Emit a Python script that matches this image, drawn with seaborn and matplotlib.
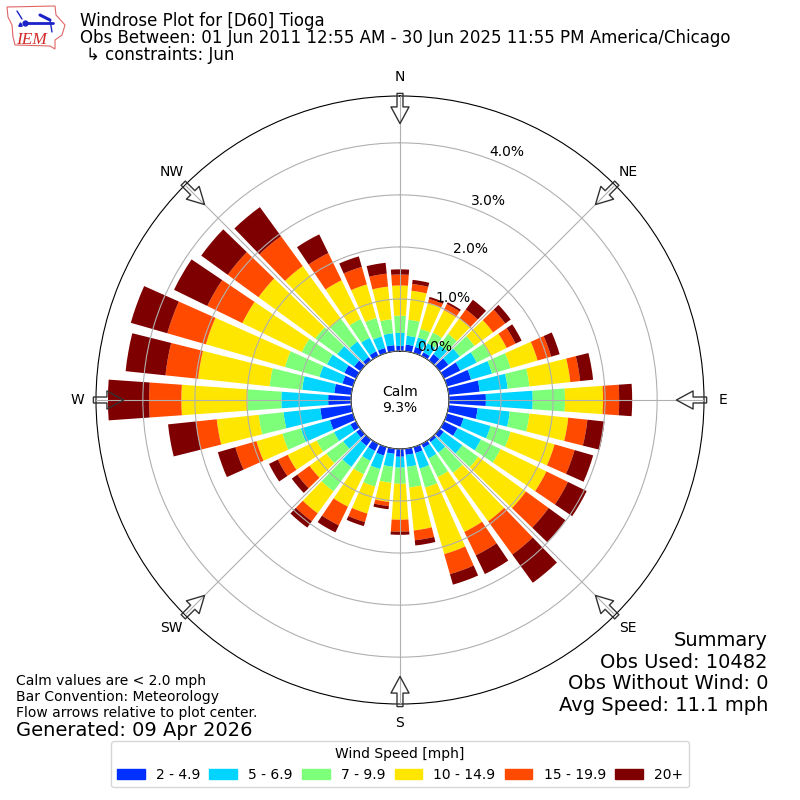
import numpy as np
import pandas as pd
import matplotlib
matplotlib.use("Agg")
import matplotlib.pyplot as plt
from matplotlib.lines import Line2D
from matplotlib.patches import Patch, Polygon
import seaborn as sns

# direction bins, degrees clockwise from north
directions = np.arange(0, 360, 10)

# percent of observations per direction for each speed class
speed_2_5 = [.10, .13, .12, .08, .15, .21, .35, .48, .60, .71, .56, .33, .29, .10, .06, .08, .12, .12,
             .15, .10, .17, .15, .15, .10, .12, .46, .60, .44, .33, .21, .25, .15, .08, .10, .10, .12]
speed_5_7 = [.25, .17, .19, .19, .21, .27, .35, .42, .54, .90, .62, .54, .50, .44, .25, .23, .31, .23,
             .21, .25, .27, .21, .50, .31, .35, .58, .71, .90, .62, .46, .37, .40, .37, .29, .23, .23]
speed_7_10 = [.33, .31, .17, .23, .27, .35, .29, .37, .42, .62, .38, .40, .42, .38, .48, .40, .38, .40,
              .31, .31, .35, .29, .58, .40, .37, .37, .48, .65, .63, .69, .54, .52, .54, .40, .37, .27]
speed_10_15 = [.58, .56, .52, .48, .37, .44, .35, .54, .79, .73, .75, .88, .98, 1.13, 1.15, 1.17, 1.33, .83,
               .69, .37, .54, .69, .52, .40, .62, .52, .81, 1.27, 1.38, 1.58, 1.27, 1.35, 1.25, .83, .67, .63]
speed_15_20 = [.21, .13, .08, .13, .21, .29, .19, .27, .19, .31, .37, .40, .46, .54, .79, .50, .40, .19,
               .23, .08, .17, .40, .19, .29, .21, .42, .40, .62, .63, .77, .75, .73, .71, .58, .35, .25]
speed_20_up = [.10, .08, .04, .04, .23, .13, .13, .17, .25, .25, .33, .37, .40, .40, .67, .40, .21, .10,
               .06, .06, .08, .15, .15, .13, .19, .35, .54, .79, .77, .73, .71, .63, .69, .40, .21, .21]

speed_labels = ["2 - 4.9", "5 - 6.9", "7 - 9.9", "10 - 14.9", "15 - 19.9", "20+"]
speed_colors = ["#0030ff", "#00d4ff", "#7dff7a", "#ffe600", "#ff4a00", "#7f0000"]
compass_deg = [0, 45, 90, 135, 180, 225, 270, 315]
compass_labels = ["N", "NE", "E", "SE", "S", "SW", "W", "NW"]
ring_ticks = [0, 1, 2, 3, 4]

sns.set_style("white")
plt.rcParams["font.family"] = ["DejaVu Sans"]
plt.rcParams["text.color"] = "black"
plt.rcParams["axes.labelcolor"] = "black"
plt.rcParams["xtick.color"] = "black"
plt.rcParams["ytick.color"] = "black"

fig = plt.figure(figsize=(8, 8), dpi=100)
ax = fig.add_axes([0.12, 0.12, 0.76, 0.76], projection="polar")
ax.set_theta_zero_location("N")
ax.set_theta_direction(-1)

theta = np.deg2rad(directions)
series = [speed_2_5, speed_5_7, speed_7_10, speed_10_15, speed_15_20, speed_20_up]
bottom = np.zeros(len(theta))
palette = sns.color_palette(speed_colors)
for values, color in zip(series, palette):
    df = pd.DataFrame({"theta": theta, "pct": values})
    sns.barplot(data=df, x="theta", y="pct", native_scale=True, color=color, saturation=1,
                width=0.8, errorbar=None, bottom=bottom, linewidth=0, ax=ax)
    bottom = bottom + np.array(values)

ax.set_xlabel("")
ax.set_ylabel("")
ax.set_xlim(0, 2 * np.pi)
ax.set_ylim(0, 4.9)
ax.set_rorigin(-0.94)
ax.set_xticks(np.deg2rad(compass_deg))
ax.set_xticklabels(compass_labels)
ax.set_yticks(ring_ticks)
ax.set_yticklabels([f"{t:.1f}%" for t in ring_ticks])
ax.set_rlabel_position(20.3)
ax.tick_params(axis="x", pad=3, labelsize=10)
ax.tick_params(axis="y", labelsize=10)
ax.grid(True, color="#b0b0b0", linewidth=0.8)
ax.set_axisbelow(False)
for spine in ax.spines.values():
    spine.set_color("black")
    spine.set_linewidth(0.8)

# flow arrows around the rim
for deg in compass_deg:
    rad = np.deg2rad(deg)
    ax.annotate("", xy=(rad, 4.37), xytext=(rad, 4.95), annotation_clip=False,
                arrowprops=dict(facecolor="none", edgecolor="#333333", width=4.3, headwidth=13,
                                headlength=12, shrink=0, linewidth=1))

ax.text(0.5, 0.5, "Calm\n9.3%", transform=ax.transAxes, ha="center", va="center", fontsize=10)


def px(x, y):
    return x / 800, 1 - y / 800


# header text
fig.text(*px(80, 26), "Windrose Plot for [D60] Tioga", fontsize=12, va="baseline")
fig.text(*px(80, 43), "Obs Between: 01 Jun 2011 12:55 AM - 30 Jun 2025 11:55 PM America/Chicago",
         fontsize=12, va="baseline")
fig.text(*px(86, 60), "↳ constraints: Jun", fontsize=12, va="baseline")

# IEM logo, rough sketch of the state outline and the wind barb
iowa = [(7, 7), (55, 6), (56, 15), (65, 25), (62, 35), (55, 40), (55, 49), (50, 46), (15, 45), (13, 37), (12, 25), (8, 17)]
fig.add_artist(Polygon([px(*p) for p in iowa], closed=True, transform=fig.transFigure,
                       facecolor="none", edgecolor="#e06666", linewidth=0.8))
barb = "#1a22c8"
fig.add_artist(Line2D(*zip(px(25, 23), px(53, 23)), color=barb, linewidth=2, transform=fig.transFigure))
fig.add_artist(Line2D(*zip(px(40, 15), px(50, 20)), color=barb, linewidth=2.2, transform=fig.transFigure))
fig.add_artist(Line2D(*zip(px(50, 20), px(52, 32)), color=barb, linewidth=1, transform=fig.transFigure))
fig.add_artist(Line2D(*zip(px(17, 11), px(22, 19)), color=barb, linewidth=1, transform=fig.transFigure))
fig.add_artist(Line2D([px(25, 23)[0]], [px(25, 23)[1]], marker="o", markersize=3.5, color=barb, transform=fig.transFigure))
fig.add_artist(Line2D([px(20, 24)[0]], [px(20, 24)[1]], marker="^", markersize=2.5, color=barb, transform=fig.transFigure))
fig.text(*px(16, 44), "IEM", fontsize=12.5, color="#d22b2b", style="italic", family="Liberation Serif", va="baseline")

fig.text(*px(16, 685), "Calm values are < 2.0 mph", fontsize=10, va="baseline")
fig.text(*px(16, 701), "Bar Convention: Meteorology", fontsize=10, va="baseline")
fig.text(*px(16, 717), "Flow arrows relative to plot center.", fontsize=10, va="baseline")
fig.text(*px(16, 736), "Generated: 09 Apr 2026", fontsize=14, va="baseline")

summary = ["Summary", "Obs Used: 10482", "Obs Without Wind: 0", "Avg Speed: 11.1 mph"]
for line, y in zip(summary, [646, 668, 689, 711]):
    fig.text(*px(768, y), line, fontsize=14, ha="right", va="baseline")

handles = [Patch(color=c, label=l) for c, l in zip(palette, speed_labels)]
fig.legend(handles=handles, title="Wind Speed [mph]", ncol=6, loc="lower center",
           bbox_to_anchor=(0.5, 0.007), fontsize=10, title_fontsize=10, columnspacing=0.66)

fig.savefig("out.png", dpi=100)
